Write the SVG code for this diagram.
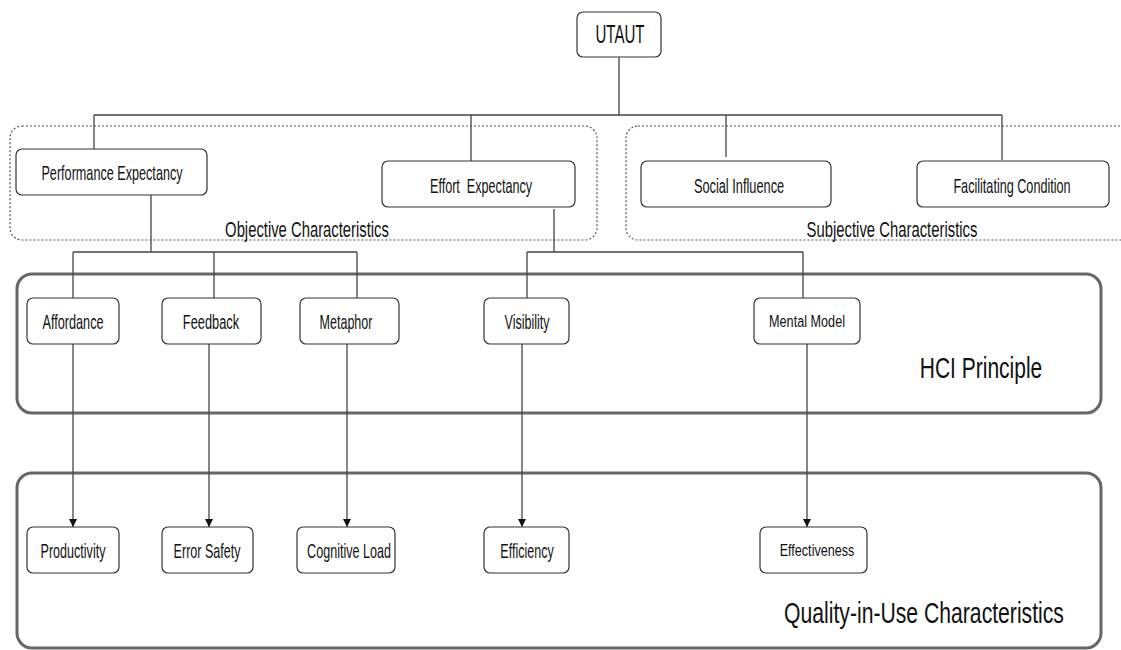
<svg xmlns="http://www.w3.org/2000/svg" width="1121" height="650" viewBox="0 0 1121 650">
  <defs>
    <marker id="arrow" viewBox="0 0 8 10" refX="8" refY="5" markerWidth="8" markerHeight="10" markerUnits="userSpaceOnUse" orient="auto">
      <path d="M0,1 L8,5 L0,9 Z" fill="#111"/>
    </marker>
    <style>
      .node { fill: #fff; stroke: #333; stroke-width: 1.2; }
      .group { fill: none; stroke: #666; stroke-width: 3; }
      .dash { fill: none; stroke: #555; stroke-width: 1.2; stroke-dasharray: 2 2; }
      .link { fill: none; stroke: #444; stroke-width: 1.3; }
      text { font-family: "Liberation Sans", Arial, sans-serif; fill: #111; text-anchor: middle; }
      .lbl { font-size: 20px; }
      .sm { font-size: 17px; }
      .title { font-size: 22px; }
      .big { font-size: 30px; }
    </style>
  </defs>
  <rect width="1121" height="650" fill="#fff"/>

  <!-- layer containers (labels are set in a narrow, condensed style) -->
  <g id="objective-characteristics">
    <rect class="dash" x="10" y="126" width="587" height="114" rx="12"/>
    <text class="title" transform="translate(307,237) scale(0.65,1)" textLength="252" lengthAdjust="spacingAndGlyphs">Objective Characteristics</text>
  </g>
  <g id="subjective-characteristics">
    <rect class="dash" x="626" y="126" width="520" height="114" rx="12"/>
    <text class="title" transform="translate(892,237) scale(0.65,1)" textLength="263" lengthAdjust="spacingAndGlyphs">Subjective Characteristics</text>
  </g>
  <g id="hci-principle">
    <rect class="group" x="17" y="274" width="1084" height="139" rx="15"/>
    <text class="big" transform="translate(981,378) scale(0.7,1)" textLength="175" lengthAdjust="spacingAndGlyphs">HCI Principle</text>
  </g>
  <g id="quality-in-use">
    <rect class="group" x="17" y="473" width="1084" height="175" rx="15"/>
    <text class="big" transform="translate(924,623) scale(0.705,1)" textLength="397" lengthAdjust="spacingAndGlyphs">Quality-in-Use Characteristics</text>
  </g>

  <!-- connectors -->
  <g id="connectors">
    <path class="link" d="M619,57 V115 M94,115 H1002 M94,115 V149 M471,115 V161 M726,115 V157 M1002,115 V160"/>
    <path class="link" d="M151,195 V252 M73,252 H357 M73,252 V298 M214,252 V298 M357,252 V298"/>
    <path class="link" d="M554,209 V252 M527,252 H803 M527,252 V298 M803,252 V298"/>
    <path class="link" d="M73,344 V527" marker-end="url(#arrow)"/>
    <path class="link" d="M209,344 V527" marker-end="url(#arrow)"/>
    <path class="link" d="M347,344 V527" marker-end="url(#arrow)"/>
    <path class="link" d="M522,344 V527" marker-end="url(#arrow)"/>
    <path class="link" d="M807,344 V527" marker-end="url(#arrow)"/>
  </g>

  <!-- UTAUT root -->
  <g id="utaut">
    <rect class="node" x="577" y="12" width="84" height="45" rx="6"/>
    <text font-size="25" transform="translate(620,43) scale(0.59,1)" textLength="83" lengthAdjust="spacingAndGlyphs">UTAUT</text>
  </g>

  <!-- UTAUT constructs -->
  <g id="performance-expectancy">
    <rect class="node" x="16" y="149" width="191" height="46" rx="6"/>
    <text class="lbl" transform="translate(112,180) scale(0.63,1)" textLength="224" lengthAdjust="spacingAndGlyphs">Performance Expectancy</text>
  </g>
  <g id="effort-expectancy">
    <rect class="node" x="382" y="161" width="193" height="46" rx="6"/>
    <text class="lbl" transform="translate(481,193) scale(0.63,1)" textLength="162" lengthAdjust="spacingAndGlyphs" xml:space="preserve">Effort  Expectancy</text>
  </g>
  <g id="social-influence">
    <rect class="node" x="641" y="161" width="190" height="46" rx="6"/>
    <text class="lbl" transform="translate(739,193) scale(0.64,1)" textLength="141" lengthAdjust="spacingAndGlyphs">Social Influence</text>
  </g>
  <g id="facilitating-condition">
    <rect class="node" x="917" y="161" width="192" height="46" rx="6"/>
    <text class="lbl" transform="translate(1012,193) scale(0.63,1)" textLength="186" lengthAdjust="spacingAndGlyphs">Facilitating Condition</text>
  </g>

  <!-- HCI principles -->
  <g id="affordance">
    <rect class="node" x="27" y="298" width="92" height="46" rx="6"/>
    <text class="lbl" transform="translate(73,329) scale(0.63,1)" textLength="97" lengthAdjust="spacingAndGlyphs">Affordance</text>
  </g>
  <g id="feedback">
    <rect class="node" x="162" y="298" width="99" height="46" rx="6"/>
    <text class="lbl" transform="translate(211,329) scale(0.64,1)" textLength="88" lengthAdjust="spacingAndGlyphs">Feedback</text>
  </g>
  <g id="metaphor">
    <rect class="node" x="300" y="298" width="99" height="46" rx="6"/>
    <text class="lbl" transform="translate(346,329) scale(0.63,1)" textLength="84" lengthAdjust="spacingAndGlyphs">Metaphor</text>
  </g>
  <g id="visibility">
    <rect class="node" x="484" y="298" width="85" height="46" rx="6"/>
    <text class="lbl" transform="translate(527,329) scale(0.625,1)" textLength="72" lengthAdjust="spacingAndGlyphs">Visibility</text>
  </g>
  <g id="mental-model">
    <rect class="node" x="754" y="298" width="106" height="46" rx="6"/>
    <text class="sm" transform="translate(807,327) scale(0.745,1)" textLength="102" lengthAdjust="spacingAndGlyphs">Mental Model</text>
  </g>

  <!-- quality-in-use outcomes -->
  <g id="productivity">
    <rect class="node" x="27" y="527" width="92" height="46" rx="6"/>
    <text class="lbl" transform="translate(73,558) scale(0.63,1)" textLength="103" lengthAdjust="spacingAndGlyphs">Productivity</text>
  </g>
  <g id="error-safety">
    <rect class="node" x="162" y="527" width="91" height="46" rx="6"/>
    <text class="lbl" transform="translate(207,558) scale(0.63,1)" textLength="106" lengthAdjust="spacingAndGlyphs">Error Safety</text>
  </g>
  <g id="cognitive-load">
    <rect class="node" x="297" y="527" width="98" height="46" rx="6"/>
    <text class="lbl" transform="translate(349,558) scale(0.63,1)" textLength="133" lengthAdjust="spacingAndGlyphs">Cognitive Load</text>
  </g>
  <g id="efficiency">
    <rect class="node" x="484" y="527" width="85" height="46" rx="6"/>
    <text class="lbl" transform="translate(527,558) scale(0.62,1)" textLength="86" lengthAdjust="spacingAndGlyphs">Efficiency</text>
  </g>
  <g id="effectiveness">
    <rect class="node" x="760" y="527" width="107" height="46" rx="6"/>
    <text class="sm" transform="translate(817,556) scale(0.74,1)" textLength="101" lengthAdjust="spacingAndGlyphs">Effectiveness</text>
  </g>
</svg>
